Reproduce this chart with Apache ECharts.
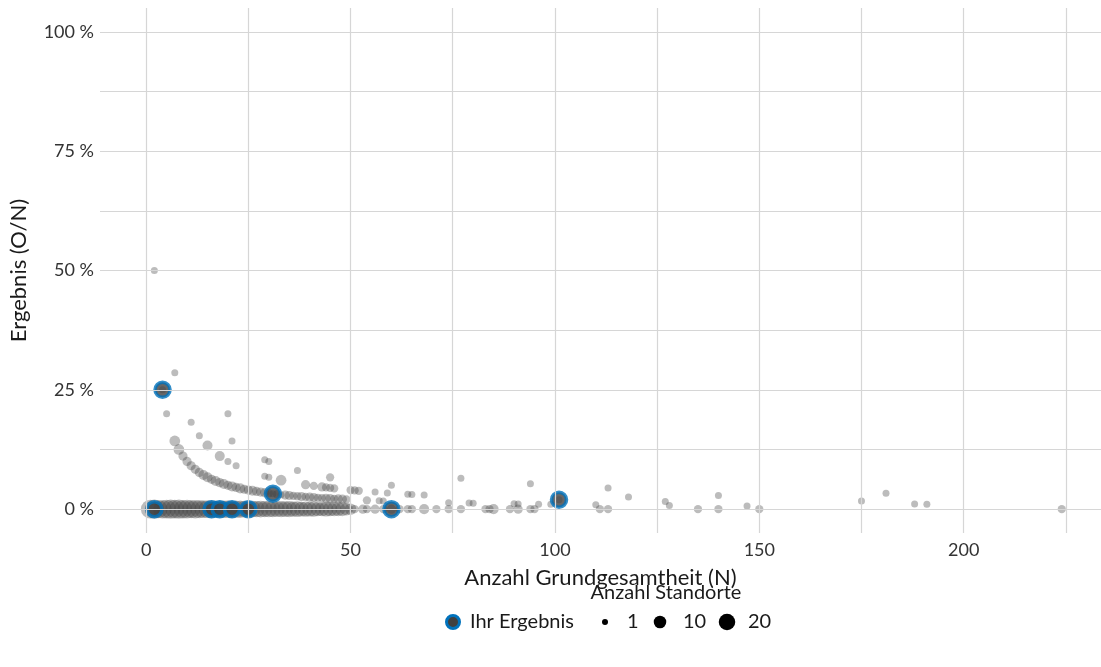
<!DOCTYPE html>
<html>
<head>
<meta charset="utf-8">
<script src="https://cdn.jsdelivr.net/npm/echarts@6/dist/echarts.min.js"></script>
<style>
html,body{margin:0;padding:0;background:#fff;}
#chart{width:1101px;height:667px;}
</style>
</head>
<body>
<div id="chart"></div>
<script>
// ---- Data (N = Grundgesamtheit, O = Ereignisse, sites = Anzahl Standorte) ----
const nO0 = [1,2,3,4,5,6,7,8,9,10,11,12,13,14,15,16,17,18,19,20,21,22,23,24,25,26,27,28,29,30,31,32,33,34,35,36,37,38,39,40,41,42,43,44,45,46,47,48,49,50,51,53,54,56,58,60,62,64,65,68,71,74,77,83,84,85,89,91,94,95,111,113,135,140,150,224];
const sitesO0 = [24,25,22,23,24,25,24,25,23,24,22,23,22,21,21,22,20,21,20,21,20,19,20,18,19,18,17,18,16,17,16,15,16,15,16,14,15,13,14,13,14,12,12,13,12,12,11,11,8,6,2,3,2,3,2,3,2,2,2,4,2,2,2,2,2,4,2,3,2,2,2,2,2,2,2,2];
const nO1 = [2,4,5,7,8,9,10,11,12,13,14,15,16,17,18,19,20,21,22,23,24,25,26,27,28,29,30,31,32,33,34,35,36,37,38,39,40,41,42,43,44,45,46,47,48,49,54,57,58,74,79,80,90,91,96,99,110,128,147];
const sitesO1 = [1,1,1,5,5,3,3,3,3,3,4,4,3,4,3,4,3,4,3,4,3,3,4,3,3,3,2,1,2,1,3,3,2,2,3,2,3,3,2,2,3,3,2,3,3,2,2,1,1,1,1,1,1,1,1,1,1,1,1];
const nO2 = [7,11,13,15,18,20,22,29,30,33,39,41,43,44,45,46,50,51,52,56,59,64,65,68,101,127,188,191];
const sitesO2 = [1,1,1,4,4,1,1,1,1,5,3,2,3,2,2,2,2,2,2,1,1,1,1,1,1,1,1,1];
const nO3 = [21,29,30,37,45,60,118,175];
const sitesO3 = [1,1,1,1,2,1,1,1];
const nO4 = [20,140];
const sitesO4 = [1,1];
const nO5 = [77,94,113];
const sitesO5 = [1,1,1];
const nO6 = [181];
const sitesO6 = [1];
const ihrN = [2,4,16,18,21,25,31,60,101];
const ihrO = [0,1,0,0,0,0,1,0,2];
const xTicks = [0,50,100,150,200];
const yTicks = [0,25,50,75,100];
const xGrid = [0,25,50,75,100,125,150,175,200,225];
const yGrid = [0,12.5,25,37.5,50,62.5,75,87.5,100];
const legendSites = [1,10,20];

// ---- build ----
const groups = [[nO0,sitesO0,0],[nO1,sitesO1,1],[nO2,sitesO2,2],[nO3,sitesO3,3],[nO4,sitesO4,4],[nO5,sitesO5,5],[nO6,sitesO6,6]];
const grayData = [];
groups.forEach(([ns, ss, o]) => {
  ns.forEach((n, i) => grayData.push([n, o / n * 100, ss[i]]));
});
const ihrData = ihrN.map((n, i) => [n, ihrO[i] / n * 100]);

function dia(c){ return 7 + 10.5 * (Math.sqrt(c) - 1) / (Math.sqrt(20) - 1); }

const FONT = 'Lato';
const TXT = '#1a1a1a';
const chart = echarts.init(document.getElementById('chart'), null, {renderer:'canvas'});

const legendY = 622;
const legendGraphics = [
  {type:'text', x:666, y:593, style:{text:'Anzahl Standorte', font:'20px ' + FONT, fill:TXT, textAlign:'center', textVerticalAlign:'middle'}},
  {type:'circle', shape:{cx:453, cy:legendY, r:6.5}, style:{fill:'#404040', stroke:'#0072BC', lineWidth:3}},
  {type:'text', x:470, y:legendY, style:{text:'Ihr Ergebnis', font:'20px ' + FONT, fill:TXT, textVerticalAlign:'middle'}},
];
const legX = [605, 660, 727];
const legTX = [627, 683, 748];
legendSites.forEach((c, i) => {
  legendGraphics.push({type:'circle', shape:{cx:legX[i], cy:legendY, r:(dia(c) - 1)/2}, style:{fill:'#000'}});
  legendGraphics.push({type:'text', x:legTX[i], y:legendY, style:{text:String(c), font:'20px ' + FONT, fill:TXT, textVerticalAlign:'middle'}});
});

const option = {
  animation:false,
  backgroundColor:'#fff',
  textStyle:{fontFamily:FONT},
  grid:{left:100, right:0, top:8, bottom:134, containLabel:false, outerBoundsMode:'none'},
  xAxis:{
    type:'value', min:-11.3, max:233.6,
    name:'Anzahl Grundgesamtheit (N)', nameLocation:'middle', nameGap:34,
    nameTextStyle:{fontSize:22, color:TXT, fontFamily:FONT},
    axisLine:{show:false}, axisTick:{show:false}, splitLine:{show:false},
    axisLabel:{customValues:xTicks, fontSize:18, color:'#333', margin:8, fontFamily:FONT}
  },
  yAxis:{
    type:'value', min:-5, max:105,
    name:'Ergebnis (O/N)', nameLocation:'middle', nameGap:70, nameRotate:90,
    nameTextStyle:{fontSize:22, color:TXT, fontFamily:FONT},
    axisLine:{show:false}, axisTick:{show:false}, splitLine:{show:false},
    axisLabel:{customValues:yTicks, fontSize:18, color:'#333', margin:6, fontFamily:FONT, formatter:v => v + ' %'}
  },
  graphic:legendGraphics,
  series:[
    {
      type:'line', data:[], silent:true, z:1,
      markLine:{
        silent:true, symbol:['none','none'], label:{show:false},
        lineStyle:{color:'#d6d6d6', width:1.2, type:'solid'},
        emphasis:{disabled:true},
        data: xGrid.map(v => ({xAxis:v})).concat(yGrid.map(v => ({yAxis:v})))
      }
    },
    {
      type:'scatter', name:'Standorte', data:grayData, z:2,
      symbolSize: d => dia(d[2]),
      itemStyle:{color:'rgba(60,60,60,0.43)'},
      emphasis:{disabled:true}
    },
    {
      type:'scatter', name:'Ihr Ergebnis', data:ihrData, z:3,
      symbolSize:15,
      itemStyle:{color:'#404040', borderColor:'#0072BC', borderWidth:3.5},
      emphasis:{disabled:true}
    }
  ]
};
chart.setOption(option);
</script>
</body>
</html>
